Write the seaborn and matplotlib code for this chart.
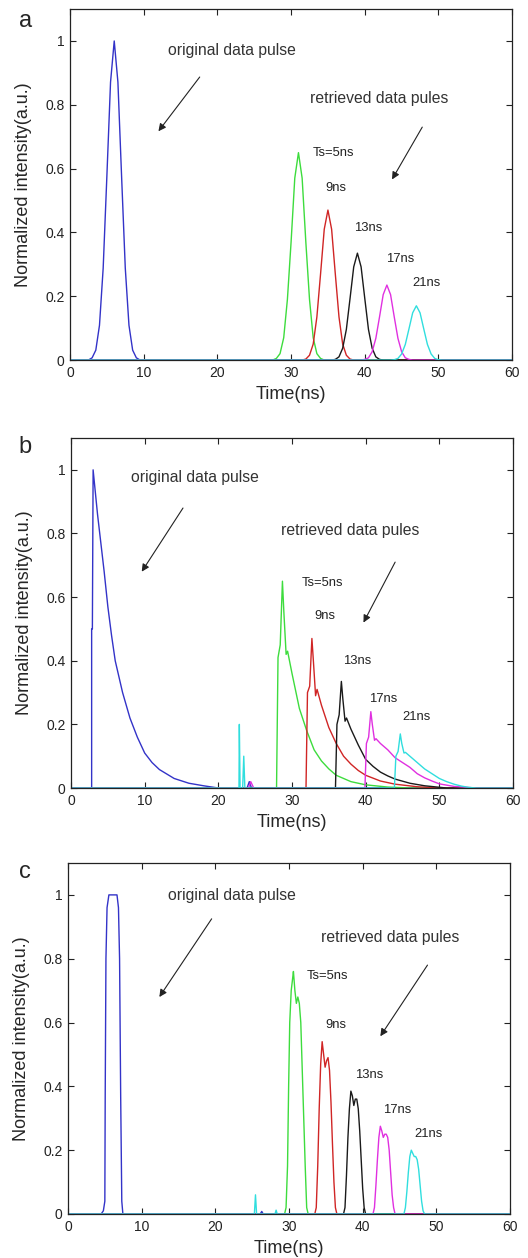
import matplotlib
matplotlib.use('Agg')
import matplotlib.pyplot as plt
import pandas as pd
import seaborn as sns

sns.set_style('ticks')
plt.rcParams['font.family'] = ['Liberation Sans', 'DejaVu Sans']
plt.rcParams['xtick.direction'] = 'in'
plt.rcParams['ytick.direction'] = 'in'

# ---- data (time in ns, normalized intensity) ----
series_names = ['original', 'Ts=5ns', '9ns', '13ns', '17ns', '21ns']
series_colors = ['#3333c8', '#3ddc3d', '#d02525', '#1a1a1a', '#e030e0', '#30dede']
pulse_labels = ['Ts=5ns', '9ns', '13ns', '17ns', '21ns']

x_ticks = [0, 10, 20, 30, 40, 50, 60]
y_ticks = [0, 0.2, 0.4, 0.6, 0.8, 1.0]
y_tick_labels = ['0', '0.2', '0.4', '0.6', '0.8', '1']

# panel a: gaussian-like pulses
a_blue_t = [0, 2.5, 3, 3.5, 4, 4.5, 5, 5.5, 6, 6.5, 7, 7.5, 8, 8.5, 9, 9.5, 60]
a_blue_y = [0, 0, 0.007, 0.031, 0.109, 0.288, 0.575, 0.871, 1.0, 0.871, 0.575, 0.288, 0.109, 0.031, 0.007, 0, 0]
a_green_t = [0, 27.5, 28, 28.5, 29, 29.5, 30, 30.5, 31, 31.5, 32, 32.5, 33, 33.5, 34, 34.5, 60]
a_green_y = [0, 0, 0.005, 0.02, 0.07, 0.19, 0.37, 0.57, 0.65, 0.57, 0.37, 0.19, 0.07, 0.02, 0.005, 0, 0]
a_red_t = [0, 31.5, 32, 32.5, 33, 33.5, 34, 34.5, 35, 35.5, 36, 36.5, 37, 37.5, 38, 38.5, 60]
a_red_y = [0, 0, 0.003, 0.015, 0.05, 0.135, 0.27, 0.41, 0.47, 0.41, 0.27, 0.135, 0.05, 0.015, 0.003, 0, 0]
a_black_t = [0, 35.5, 36, 36.5, 37, 37.5, 38, 38.5, 39, 39.5, 40, 40.5, 41, 41.5, 42, 42.5, 60]
a_black_y = [0, 0, 0.002, 0.01, 0.037, 0.096, 0.193, 0.292, 0.335, 0.292, 0.193, 0.096, 0.037, 0.01, 0.002, 0, 0]
a_mag_t = [0, 39.5, 40, 40.5, 41, 41.5, 42, 42.5, 43, 43.5, 44, 44.5, 45, 45.5, 46, 46.5, 60]
a_mag_y = [0, 0, 0.002, 0.007, 0.026, 0.068, 0.135, 0.205, 0.235, 0.205, 0.135, 0.068, 0.026, 0.007, 0.002, 0, 0]
a_cyan_t = [0, 43.5, 44, 44.5, 45, 45.5, 46, 46.5, 47, 47.5, 48, 48.5, 49, 49.5, 50, 50.5, 60]
a_cyan_y = [0, 0, 0.001, 0.005, 0.019, 0.049, 0.098, 0.148, 0.17, 0.148, 0.098, 0.049, 0.019, 0.005, 0.001, 0, 0]

# panel b: fast rise, exponential-like tail
b_blue_t = [0, 2.8, 2.8, 2.9, 3.0, 3.3, 3.6, 4.0, 4.5, 5.0, 5.5, 6.0, 7.0, 8.0, 9.0, 10.0,
            11.0, 12.0, 14.0, 16.0, 18.0, 20.0, 23.9, 24.2, 24.5, 60]
b_blue_y = [0, 0, 0.5, 0.5, 1.0, 0.93, 0.86, 0.78, 0.68, 0.57, 0.48, 0.40, 0.30, 0.22, 0.16, 0.11,
            0.08, 0.058, 0.03, 0.015, 0.007, 0, 0, 0.02, 0, 0]
b_green_t = [0, 27.9, 28.1, 28.4, 28.7, 28.9, 29.2, 29.4, 30, 31, 32, 33, 34, 35, 36, 38, 40, 43, 46, 60]
b_green_y = [0, 0, 0.41, 0.45, 0.65, 0.55, 0.42, 0.43, 0.36, 0.25, 0.18, 0.12, 0.085, 0.06, 0.04, 0.02, 0.01, 0.003, 0, 0]
b_red_t = [0, 31.9, 32.1, 32.4, 32.7, 32.9, 33.2, 33.4, 34, 35, 36, 37, 38, 39, 40, 42, 44, 47, 50, 60]
b_red_y = [0, 0, 0.3, 0.32, 0.47, 0.4, 0.29, 0.31, 0.26, 0.19, 0.14, 0.1, 0.075, 0.055, 0.04, 0.022, 0.012, 0.004, 0, 0]
b_black_t = [0, 35.9, 36.1, 36.4, 36.7, 36.9, 37.2, 37.4, 38, 39, 40, 41, 42, 43, 44, 46, 48, 51, 60]
b_black_y = [0, 0, 0.2, 0.23, 0.335, 0.28, 0.21, 0.22, 0.185, 0.135, 0.09, 0.068, 0.05, 0.038, 0.028, 0.015, 0.007, 0, 0]
b_mag_t = [0, 24.1, 24.4, 24.8, 39.9, 40.1, 40.4, 40.7, 40.9, 41.2, 41.4, 42, 43, 44, 45, 46, 47, 48, 49,
           50, 52, 55, 60]
b_mag_y = [0, 0, 0.02, 0, 0, 0.14, 0.16, 0.24, 0.2, 0.15, 0.155, 0.14, 0.12, 0.095, 0.08, 0.065, 0.045,
           0.032, 0.022, 0.013, 0.005, 0, 0]
b_cyan_t = [0, 22.8, 22.85, 22.95, 23.3, 23.45, 23.6, 43.9, 44.1, 44.4, 44.7, 44.9, 45.2, 45.4, 46, 47, 48,
            49, 50, 51, 52, 53, 54, 55, 60]
b_cyan_y = [0, 0, 0.2, 0, 0, 0.1, 0, 0, 0.1, 0.115, 0.17, 0.14, 0.11, 0.112, 0.1, 0.08, 0.06,
            0.045, 0.03, 0.02, 0.012, 0.006, 0.002, 0, 0]

# panel c: flat-top pulses
c_blue_t = [0, 4.5, 4.8, 5.0, 5.05, 5.15, 5.3, 5.55, 6.65, 6.85, 7.0, 7.15, 7.3, 7.45, 26.1, 26.3, 26.5, 60]
c_blue_y = [0, 0, 0.01, 0.04, 0.37, 0.8, 0.96, 1.0, 1.0, 0.96, 0.8, 0.37, 0.04, 0, 0, 0.008, 0, 0]
c_green_t = [0, 29.4, 29.6, 29.8, 29.95, 30.1, 30.3, 30.5, 30.6, 30.8, 31.0, 31.2, 31.4, 31.6, 31.8,
             32.0, 32.2, 32.4, 32.6, 60]
c_green_y = [0, 0, 0.02, 0.15, 0.4, 0.6, 0.7, 0.74, 0.76, 0.7, 0.66, 0.68, 0.66, 0.6, 0.45,
             0.3, 0.15, 0.02, 0, 0]
c_red_t = [0, 33.5, 33.7, 33.9, 34.1, 34.3, 34.5, 34.7, 34.9, 35.1, 35.3, 35.5, 35.7, 35.9, 36.1, 36.3, 36.5, 60]
c_red_y = [0, 0, 0.02, 0.15, 0.33, 0.47, 0.54, 0.5, 0.46, 0.48, 0.49, 0.45, 0.35, 0.22, 0.1, 0.02, 0, 0]
c_black_t = [0, 37.4, 37.6, 37.8, 38.0, 38.2, 38.4, 38.6, 38.8, 39.0, 39.2, 39.4, 39.6, 39.8, 40.0, 40.2, 40.4, 60]
c_black_y = [0, 0, 0.02, 0.12, 0.24, 0.33, 0.385, 0.37, 0.34, 0.36, 0.36, 0.33, 0.26, 0.17, 0.08, 0.02, 0, 0]
c_mag_t = [0, 41.4, 41.6, 41.8, 42.0, 42.2, 42.4, 42.6, 42.8, 43.0, 43.2, 43.4, 43.6, 43.8, 44.0, 44.2, 44.4, 60]
c_mag_y = [0, 0, 0.02, 0.09, 0.17, 0.24, 0.275, 0.26, 0.24, 0.25, 0.25, 0.24, 0.2, 0.13, 0.06, 0.02, 0, 0]
c_cyan_t = [0, 25.3, 25.45, 25.6, 28.1, 28.25, 28.4, 45.6, 45.8, 46.0, 46.2, 46.4, 46.6, 46.8, 47.0, 47.2,
            47.4, 47.6, 47.8, 48.0, 48.2, 48.4, 60]
c_cyan_y = [0, 0, 0.06, 0, 0, 0.012, 0, 0, 0.02, 0.07, 0.13, 0.18, 0.2, 0.19, 0.18, 0.18,
            0.17, 0.14, 0.09, 0.04, 0.01, 0, 0]

panels = [
    dict(tag='a', rect=[0.1326, 0.7138, 0.8374, 0.279],
         series=[(a_blue_t, a_blue_y), (a_green_t, a_green_y), (a_red_t, a_red_y),
                 (a_black_t, a_black_y), (a_mag_t, a_mag_y), (a_cyan_t, a_cyan_y)],
         orig_txt=(13.3, 0.97), retr_txt=(32.6, 0.82),
         arrow1=((17.6, 0.887), (12.0, 0.717)), arrow2=((47.8, 0.73), (43.7, 0.566)),
         lab_pos=[(33.0, 0.65), (34.6, 0.54), (38.5, 0.415), (42.9, 0.317), (46.4, 0.24)],
         tag_pos=(0.049, 0.983)),
    dict(tag='b', rect=[0.1345, 0.3736, 0.8371, 0.2782],
         series=[(b_blue_t, b_blue_y), (b_green_t, b_green_y), (b_red_t, b_red_y),
                 (b_black_t, b_black_y), (b_mag_t, b_mag_y), (b_cyan_t, b_cyan_y)],
         orig_txt=(8.2, 0.975), retr_txt=(28.5, 0.81),
         arrow1=((15.2, 0.88), (9.6, 0.68)), arrow2=((44.0, 0.71), (39.7, 0.52)),
         lab_pos=[(31.3, 0.644), (33.0, 0.54), (36.9, 0.40), (40.5, 0.28), (45.0, 0.224)],
         tag_pos=(0.047, 0.645)),
    dict(tag='c', rect=[0.1288, 0.035, 0.8371, 0.279],
         series=[(c_blue_t, c_blue_y), (c_green_t, c_green_y), (c_red_t, c_red_y),
                 (c_black_t, c_black_y), (c_mag_t, c_mag_y), (c_cyan_t, c_cyan_y)],
         orig_txt=(13.6, 0.998), retr_txt=(34.3, 0.865),
         arrow1=((19.5, 0.925), (12.4, 0.68)), arrow2=((48.8, 0.78), (42.4, 0.557)),
         lab_pos=[(32.4, 0.746), (34.9, 0.592), (39.0, 0.437), (42.8, 0.327), (47.0, 0.25)],
         tag_pos=(0.047, 0.307)),
]

fig = plt.figure(figsize=(5.28, 12.58), dpi=100)

for p in panels:
    ax = fig.add_axes(p['rect'])
    frames = []
    for name, (t, y) in zip(series_names, p['series']):
        frames.append(pd.DataFrame({'time': t, 'intensity': y, 'series': name}))
    df = pd.concat(frames, ignore_index=True)
    sns.lineplot(data=df, x='time', y='intensity', hue='series', hue_order=series_names,
                 palette=series_colors, estimator=None, sort=False, legend=False,
                 linewidth=1.0, ax=ax)

    ax.set_xlim(0, 60)
    ax.set_ylim(0, 1.1)
    ax.set_xticks(x_ticks)
    ax.set_xticklabels([str(v) for v in x_ticks])
    ax.set_yticks(y_ticks)
    ax.set_yticklabels(y_tick_labels)
    ax.tick_params(top=True, right=True, length=4, width=0.8, labelsize=10,
                   colors='#222222', pad=4)
    for s in ax.spines.values():
        s.set_linewidth(0.9)
        s.set_color('#222222')

    ax.set_xlabel('Time(ns)', fontsize=13)
    ax.set_ylabel('Normalized intensity(a.u.)', fontsize=13)
    ax.xaxis.set_label_coords(0.5, -0.075)
    ax.yaxis.set_label_coords(-0.085, 0.5)

    ax.text(*p['orig_txt'], 'original data pulse', fontsize=11.3, color='#333333', va='center')
    ax.text(*p['retr_txt'], 'retrieved data pules', fontsize=11.3, color='#333333', va='center')
    for lab, pos in zip(pulse_labels, p['lab_pos']):
        ax.text(*pos, lab, fontsize=9.4, color='#222222', va='center')
    for tail, head in (p['arrow1'], p['arrow2']):
        ax.annotate('', xy=head, xytext=tail,
                    arrowprops=dict(arrowstyle='-|>', color='#222222', lw=0.8,
                                    mutation_scale=11, shrinkA=0, shrinkB=0))

    fig.text(*p['tag_pos'], p['tag'], fontsize=17, ha='center', va='center')

fig.savefig('out.png', dpi=100)
